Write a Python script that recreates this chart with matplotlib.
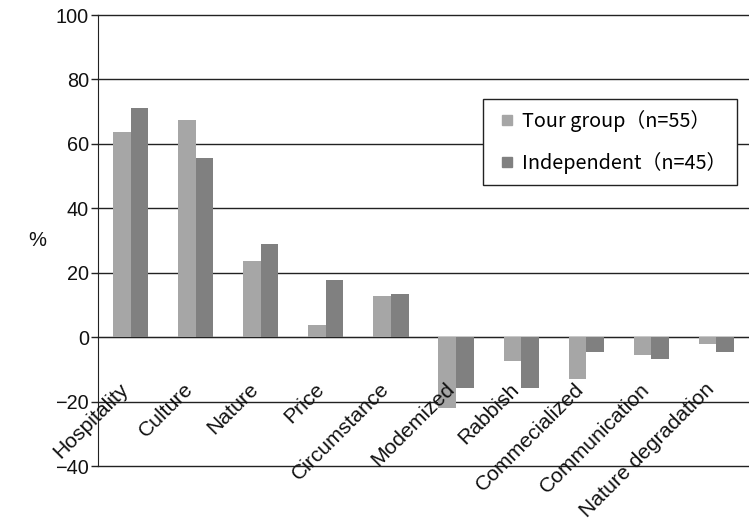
import matplotlib
matplotlib.use("Agg")
import matplotlib.pyplot as plt
import matplotlib.transforms as mtransforms
from matplotlib.lines import Line2D
import numpy as np

categories = ["Hospitality", "Culture", "Nature", "Price", "Circumstance",
              "Modemized", "Rabbish", "Commecialized", "Communication",
              "Nature degradation"]
tour_group = [63.6, 67.4, 23.6, 3.7, 12.7, -21.9, -7.4, -12.9, -5.5, -2.0]
independent = [71.1, 55.6, 28.9, 17.7, 13.4, -15.7, -15.7, -4.6, -6.7, -4.6]
series_labels = ["Tour group（n=55）", "Independent（n=45）"]
series_colors = ['#a6a6a6', '#808080']
yticks = [-40, -20, 0, 20, 40, 60, 80, 100]

plt.rcParams['font.family'] = ['Liberation Sans', 'DejaVu Sans']

fig = plt.figure(figsize=(7.49, 5.26), dpi=100)
ax = fig.add_axes([98/749, 1-466/526, 651/749, 451/526])

x = np.arange(len(categories))
w = 0.27
ax.bar(x - w/2, tour_group, w, color=series_colors[0], zorder=3)
ax.bar(x + w/2, independent, w, color=series_colors[1], zorder=3)

ax.set_xlim(-0.5, len(categories) - 0.5)
ax.set_ylim(-40, 100)
ax.set_yticks(yticks)
ax.yaxis.grid(True, color='#222222', linewidth=1.0, zorder=0)
ax.set_axisbelow(True)
for gl in ax.get_ygridlines():
    gl.set_clip_on(False)

ax.spines['top'].set_visible(False)
ax.spines['right'].set_visible(False)
ax.spines['left'].set_color('#222222')
ax.spines['bottom'].set_position(('data', 0))
ax.spines['bottom'].set_color('#222222')

ax.tick_params(axis='y', direction='out', length=5, width=1, color='#222222',
               labelsize=14.3, pad=1.5, labelcolor='#111111')
ax.set_xticks([])

offset = mtransforms.ScaledTranslation(-5/100, -49/100, fig.dpi_scale_trans)
for i, name in enumerate(categories):
    ax.text(i, 0, name, transform=ax.transData + offset, fontsize=15.2,
            rotation=45, ha='right', va='center', rotation_mode='anchor',
            color='#111111')

ax.set_ylabel('%', rotation=0, fontsize=14.5, va='center', ha='center',
              color='#111111')
ax.yaxis.set_label_coords(-0.094, (466-240)/451)

handles = [Line2D([], [], marker='s', linestyle='none', markersize=7.2,
                  markerfacecolor=c, markeredgecolor=c) for c in series_colors]
leg = ax.legend(handles, series_labels, loc='upper left',
                bbox_to_anchor=((483-98)/651, (466-99)/451),
                frameon=True, fancybox=False, edgecolor='#222222', framealpha=1,
                prop={'family': ['Noto Sans CJK JP'], 'size': 14.3},
                handlelength=1.3, handletextpad=0.1,
                labelspacing=1.0, borderpad=0.55, borderaxespad=0)
leg.get_frame().set_linewidth(1.0)

fig.savefig('out.png', dpi=100)
